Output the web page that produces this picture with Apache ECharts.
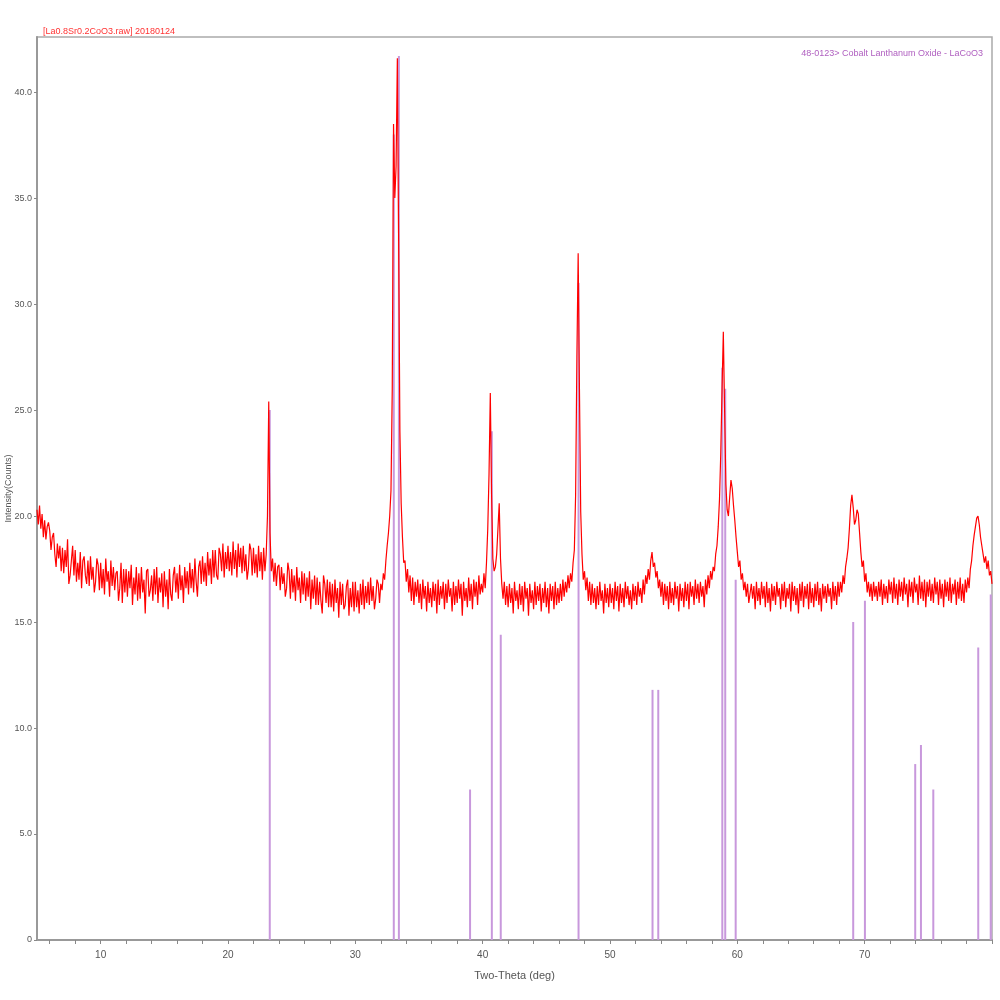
<!DOCTYPE html>
<html>
<head>
<meta charset="utf-8">
<script src="https://cdn.jsdelivr.net/npm/echarts@6/dist/echarts.min.js"></script>
<style>html,body{margin:0;padding:0;background:#fff}#c{width:1000px;height:1000px}</style>
</head>
<body>
<div id="c"></div>
<script>
// Scan: 2-theta from 5.0 to 80.0 deg, 0.1 deg step
const scanStart = 5.0;
const scanStep = 0.1;
const intensity = [
/*5*/  20.3,19.6,20.5,19.4,20.1,19.0,19.8,18.9,19.5,19.7,
/*6*/  19.3,18.4,19.0,19.2,18.2,17.6,18.7,18.0,18.6,17.4,
/*7*/  18.5,17.3,18.4,17.6,18.9,16.8,17.2,17.9,18.6,17.2,
/*8*/  18.4,16.9,17.8,17.0,18.3,16.6,17.9,18.1,17.2,16.8,
/*9*/  17.9,16.7,18.1,17.0,17.6,16.4,16.9,18.0,17.7,16.5,
/*10*/ 17.8,16.6,17.5,16.3,18.0,16.9,17.4,16.2,17.9,16.7,
/*11*/ 17.6,16.5,17.3,17.4,16.0,16.6,17.8,15.9,17.5,16.4,
/*12*/ 17.5,16.2,17.4,16.6,17.7,15.8,17.1,16.3,17.6,16.0,
/*13*/ 17.3,16.1,17.6,16.4,17.0,15.4,17.4,17.5,16.2,16.5,
/*14*/ 17.2,16.0,17.5,16.3,17.6,15.9,17.1,16.4,17.3,15.7,
/*15*/ 17.4,16.2,17.0,15.6,17.5,16.3,16.0,17.2,17.6,16.4,
/*16*/ 17.3,16.1,17.7,16.5,17.2,15.9,17.6,16.6,17.4,16.3,
/*17*/ 17.8,16.6,17.5,16.4,18.0,16.9,16.2,17.6,17.9,16.8,
/*18*/ 18.1,16.9,17.8,16.7,18.3,17.2,18.0,16.8,18.4,17.1,
/*19*/ 18.4,17.2,17.0,18.5,18.2,17.4,18.7,17.1,18.3,17.5,
/*20*/ 18.6,17.4,18.3,17.2,18.8,17.5,18.4,17.1,18.7,17.6,
/*21*/ 18.5,17.3,18.6,17.4,18.2,17.0,17.5,18.7,18.4,17.2,
/*22*/ 18.5,17.3,18.2,17.1,18.6,17.4,18.3,17.0,18.5,17.4,
/*23*/ 18.2,20.0,25.4,19.2,17.4,18.0,16.9,17.8,16.7,17.6,
/*24*/ 17.7,16.5,17.6,16.8,17.3,16.2,16.6,17.8,17.4,16.1,
/*25*/ 17.5,16.4,17.2,16.0,17.6,16.5,17.1,15.9,17.4,16.3,
/*26*/ 17.3,16.0,17.1,16.2,17.4,15.6,17.0,16.1,17.2,15.8,
/*27*/ 17.1,15.8,16.9,16.0,15.4,17.2,16.8,15.9,17.0,15.7,
/*28*/ 16.9,15.7,16.8,15.5,17.0,15.9,16.6,15.2,16.9,15.8,
/*29*/ 16.8,15.6,15.8,16.7,17.0,15.3,16.6,15.7,16.9,15.5,
/*30*/ 16.9,15.7,16.5,15.4,16.8,15.8,17.0,15.6,16.7,15.9,
/*31*/ 16.9,15.8,17.1,16.0,16.7,15.6,16.1,17.0,16.8,15.9,
/*32*/ 16.8,16.5,17.3,17.0,17.9,18.6,19.2,20.0,21.2,26.0,
/*33*/ 38.5,35.0,36.5,41.6,33.0,24.0,20.6,19.0,17.8,17.9,
/*34*/ 16.9,17.5,16.4,17.2,16.0,17.1,15.8,16.9,16.2,17.0,
/*35*/ 15.9,16.8,15.6,17.0,16.1,16.7,15.5,16.9,15.9,16.6,
/*36*/ 15.7,16.9,16.0,16.8,15.4,17.0,15.8,16.7,16.1,16.9,
/*37*/ 15.6,16.8,15.9,17.0,16.2,16.6,15.5,16.9,15.8,16.7,
/*38*/ 15.9,17.0,16.1,16.8,15.3,16.9,16.0,16.6,15.7,17.1,
/*39*/ 16.0,16.8,15.6,17.0,16.2,16.9,15.8,17.2,16.3,16.8,
/*40*/ 16.4,17.3,16.6,17.8,19.4,22.0,25.8,21.0,18.0,17.4,
/*41*/ 17.6,18.2,19.4,20.6,18.0,16.8,16.1,16.9,15.8,16.7,
/*42*/ 15.7,16.8,15.9,16.6,15.4,16.9,16.0,16.5,15.6,16.8,
/*43*/ 15.8,16.7,15.5,16.9,16.1,16.6,15.3,16.8,15.9,16.5,
/*44*/ 15.6,16.9,15.8,16.7,16.0,16.8,15.5,16.6,15.9,16.9,
/*45*/ 15.7,16.6,15.4,16.8,16.0,16.7,15.6,16.9,15.8,16.6,
/*46*/ 15.9,16.8,16.0,17.0,16.2,16.9,16.4,17.2,16.6,17.3,
/*47*/ 16.9,17.8,18.4,21.0,27.5,32.4,26.0,20.2,18.2,17.0,
/*48*/ 17.4,16.5,17.1,16.0,16.9,15.8,16.8,15.9,16.6,15.6,
/*49*/ 16.7,15.8,16.9,16.0,16.5,15.4,16.8,15.9,16.6,15.7,
/*50*/ 16.8,15.9,16.6,15.6,16.9,16.0,16.7,15.5,16.8,15.9,
/*51*/ 16.6,15.7,16.9,16.1,16.7,15.8,16.5,15.6,16.8,16.0,
/*52*/ 16.7,15.8,16.9,16.2,16.6,15.9,17.0,16.3,17.2,16.8,
/*53*/ 17.5,17.0,17.9,18.3,17.6,17.8,17.1,17.4,16.6,17.0,
/*54*/ 16.2,16.9,15.8,16.8,16.0,16.7,15.6,16.9,15.9,16.6,
/*55*/ 15.8,16.9,16.1,16.7,15.5,16.8,16.0,16.6,15.7,16.9,
/*56*/ 16.0,16.8,15.6,16.9,16.2,16.7,15.8,17.0,16.1,16.8,
/*57*/ 15.9,16.9,16.2,16.7,15.7,17.0,16.3,17.2,16.6,17.4,
/*58*/ 17.0,17.6,17.4,18.2,18.6,19.5,20.8,23.0,26.0,28.7,
/*59*/ 25.0,21.5,20.3,20.0,20.9,21.7,21.3,20.5,19.8,19.0,
/*60*/ 18.3,17.6,17.9,17.0,17.3,16.5,16.9,16.2,16.8,15.9,
/*61*/ 15.9,16.8,16.1,16.7,15.6,16.9,16.0,16.6,15.8,16.9,
/*62*/ 16.1,16.7,15.7,16.9,15.9,16.6,15.5,16.8,16.0,16.7,
/*63*/ 15.8,16.9,16.2,16.6,15.6,16.8,16.0,16.9,15.7,16.6,
/*64*/ 16.1,16.8,15.5,16.9,16.0,16.7,15.8,16.6,15.4,16.8,
/*65*/ 16.0,16.9,15.7,16.7,16.1,16.8,15.6,16.9,15.9,16.6,
/*66*/ 15.7,16.8,16.0,16.9,15.8,16.6,15.5,16.8,16.1,16.7,
/*67*/ 15.9,16.8,16.2,16.6,15.6,16.9,16.0,16.7,15.8,16.9,
/*68*/ 16.2,16.9,16.4,17.2,16.8,17.6,18.0,18.5,19.4,20.5,
/*69*/ 21.0,20.4,19.6,19.8,20.3,20.1,19.2,18.3,17.6,17.9,
/*70*/ 16.9,17.3,16.4,16.9,16.2,16.8,16.0,16.9,16.2,16.7,
/*71*/ 16.0,16.9,16.2,17.0,15.8,16.8,16.1,16.7,15.9,17.0,
/*72*/ 16.3,16.9,15.9,17.1,16.1,16.8,15.8,17.0,16.2,16.9,
/*73*/ 16.0,17.1,16.3,16.8,15.7,17.0,16.2,16.9,15.9,17.1,
/*74*/ 16.4,16.8,15.8,17.2,16.1,16.9,16.0,17.0,15.7,16.9,
/*75*/ 16.2,17.0,16.0,16.8,15.9,17.1,16.3,16.9,15.8,17.0,
/*76*/ 16.1,16.8,15.7,17.0,16.2,16.9,16.0,17.1,15.9,16.8,
/*77*/ 16.3,17.0,15.8,16.9,16.1,17.1,16.0,16.8,15.9,17.0,
/*78*/ 16.4,17.1,16.6,17.5,17.9,18.6,19.1,19.5,19.9,20.0,
/*79*/ 19.6,19.0,18.6,18.2,17.8,18.1,17.5,17.9,17.2,17.4,
/*80*/ 16.8
];

// Reference card 48-0123 LaCoO3: stick positions and heights
const stickTheta  = [23.28, 33.02, 33.42, 39.01, 40.72, 41.42, 47.53, 53.34, 53.79, 58.82, 59.05, 59.87, 69.10, 70.02, 73.97, 74.42, 75.39, 78.92, 79.90];
const stickHeight = [25.0, 38.0, 41.7, 7.1, 24.0, 14.4, 31.0, 11.8, 11.8, 27.0, 26.0, 17.0, 15.0, 16.0, 8.3, 9.2, 7.1, 13.8, 16.3];

const xTickValues  = [6,8,10,12,14,16,18,20,22,24,26,28,30,32,34,36,38,40,42,44,46,48,50,52,54,56,58,60,62,64,66,68,70,72,74,76,78,80];
const xLabelValues = [10,20,30,40,50,60,70];
const yTickValues  = [0,5,10,15,20,25,30,35,40];

const titleText  = '[La0.8Sr0.2CoO3.raw] 20180124';
const legendText = '48-0123> Cobalt Lanthanum Oxide - LaCoO3';

const scanData = intensity.map((v, i) => [+(scanStart + i * scanStep).toFixed(2), v]);
const stickData = stickTheta.map((t, i) => [t, stickHeight[i]]);

const chart = echarts.init(document.getElementById('c'), null, {renderer: 'canvas'});
chart.setOption({
  animation: false,
  backgroundColor: '#fff',
  title: [
    {text: titleText, left: 38, top: 22, textStyle: {color: '#ff3333', fontSize: 9, fontWeight: 'normal', fontFamily: 'Liberation Sans'}},
    {text: legendText, right: 12, top: 44, textStyle: {color: '#b060c0', fontSize: 9, fontWeight: 'normal', fontFamily: 'Liberation Sans'}}
  ],
  grid: {left: 37, right: 8, top: 37, bottom: 60, containLabel: false, outerBoundsMode: 'none',
         show: true, borderColor: '#aaa', borderWidth: 1.5, backgroundColor: '#fff'},
  xAxis: {
    type: 'value', min: 5, max: 80,
    name: 'Two-Theta (deg)', nameLocation: 'middle', nameGap: 30, nameMoveOverlap: false,
    nameTextStyle: {color: '#555', fontSize: 11, fontFamily: 'Liberation Sans'},
    axisLine: {show: true, onZero: false, lineStyle: {color: '#999', width: 2}},
    axisTick: {show: true, customValues: xTickValues, length: 4, inside: false, lineStyle: {color: '#888'}},
    axisLabel: {customValues: xLabelValues, color: '#555', fontSize: 10, margin: 10, fontFamily: 'Liberation Sans'},
    splitLine: {show: false}
  },
  yAxis: {
    type: 'value', min: 0, max: 42.6,
    name: 'Intensity(Counts)', nameLocation: 'middle', nameGap: 24, nameMoveOverlap: false,
    nameTextStyle: {color: '#555', fontSize: 9, fontFamily: 'Liberation Sans'},
    axisLine: {show: true, lineStyle: {color: '#999', width: 2}},
    axisTick: {show: true, customValues: yTickValues, length: 3, lineStyle: {color: '#888'}},
    axisLabel: {customValues: yTickValues, color: '#555', fontSize: 9, margin: 5, fontFamily: 'Liberation Sans',
      formatter: v => v === 0 ? '0' : v.toFixed(1)},
    splitLine: {show: false}
  },
  series: [
    {
      type: 'custom', name: 'LaCoO3', z: 1,
      data: stickData,
      renderItem: (params, api) => {
        const p0 = api.coord([api.value(0), 0]);
        const p1 = api.coord([api.value(0), api.value(1)]);
        return {type: 'line', shape: {x1: p0[0], y1: p0[1], x2: p1[0], y2: p1[1]},
                style: {stroke: '#c898dc', lineWidth: 2}};
      }
    },
    {
      type: 'line', name: 'scan', z: 3,
      data: scanData, showSymbol: false, symbol: 'none', sampling: null,
      lineStyle: {color: '#ff0000', width: 1.2}
    }
  ]
});
</script>
</body>
</html>
